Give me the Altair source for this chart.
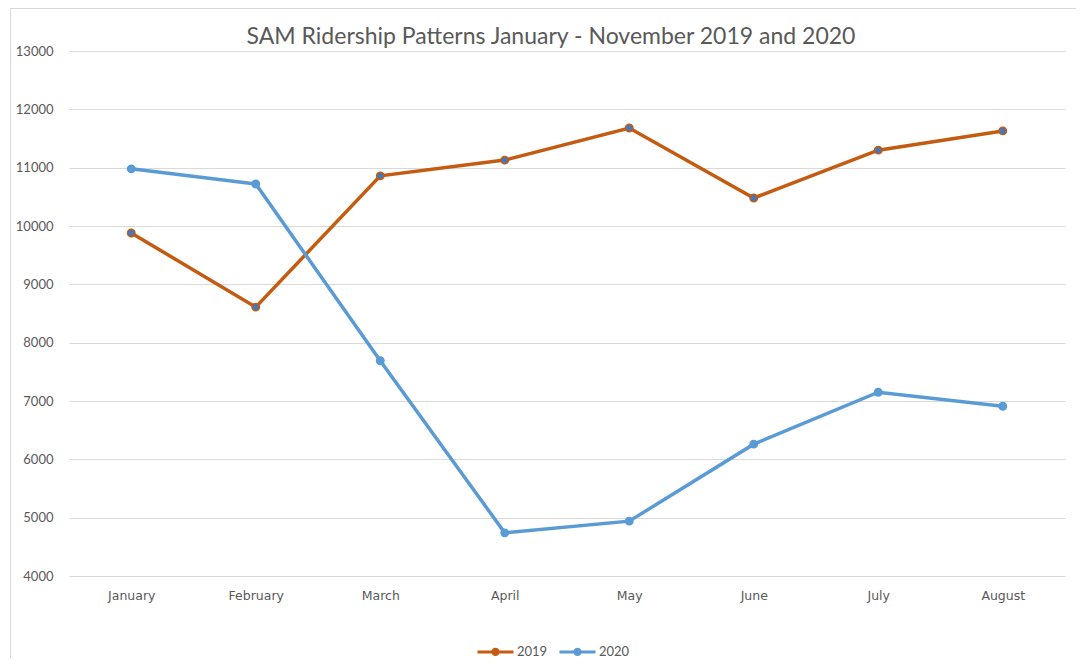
import altair as alt
import pandas as pd

months = ["January", "February", "March", "April", "May", "June", "July", "August"]
years = ["2019", "2020"]
riders_2019 = [9880, 8610, 10860, 11130, 11680, 10480, 11300, 11630]
riders_2020 = [10980, 10720, 7690, 4740, 4940, 6260, 7150, 6910]
y_ticks = [4000, 5000, 6000, 7000, 8000, 9000, 10000, 11000, 12000, 13000]
title_text = "SAM Ridership Patterns January - November 2019 and 2020"

rows = []
for m, a, b in zip(months, riders_2019, riders_2020):
    rows.append({"Month": m, "Year": "2019", "Riders": a})
    rows.append({"Month": m, "Year": "2020", "Riders": b})
df = pd.DataFrame(rows)

line_colors = ["#c55a11", "#5b9bd5"]
marker_fills = ["#4477bd", "#5b9bd5"]
grey = "#595959"
font = "Lato"

x = alt.X(
    "Month:N",
    sort=months,
    scale=alt.Scale(type="point", padding=0.5),
    axis=alt.Axis(title=None, labelAngle=0, ticks=False, domain=False, grid=False,
                  labelPadding=13, labelFontSize=12.5, labelColor=grey, labelFont="DejaVu Sans"),
)
y = alt.Y(
    "Riders:Q",
    scale=alt.Scale(domain=[4000, 13000], nice=False, zero=False),
    axis=alt.Axis(title=None, values=y_ticks, ticks=False, domain=False, format="d",
                  gridColor="#d9d9d9", gridWidth=1, labelPadding=16, labelFontSize=13,
                  labelColor=grey, labelFont=font),
)

sym = "M -1 0 L 1 0 M 0.15 0 A 0.15 0.15 0 1 1 -0.15 0 A 0.15 0.15 0 1 1 0.15 0 Z"
leg = alt.Legend(title=None, orient="none", legendX=407, legendY=581, direction="horizontal",
                 symbolType=sym, symbolSize=1296, symbolStrokeWidth=3, labelFontSize=13,
                 labelColor=grey, labelFont=font, columnPadding=5, labelOffset=2,
                 symbolOpacity=1)

stroke_scale = alt.Scale(domain=years, range=line_colors)
fill_scale = alt.Scale(domain=years, range=marker_fills)
lines = alt.Chart(df).mark_line(strokeWidth=3.5).encode(
    x=x, y=y,
    stroke=alt.Stroke("Year:N", scale=stroke_scale, legend=leg),
)
points = alt.Chart(df).mark_point(filled=True, shape="circle", size=55, strokeWidth=1.5, opacity=1).encode(
    x=x, y=y,
    stroke=alt.Stroke("Year:N", scale=stroke_scale, legend=leg),
    fill=alt.Fill("Year:N", scale=fill_scale, legend=leg),
)

one = pd.DataFrame({"k": [0]})
frame_left = alt.Chart(one).mark_rule(color="#d9d9d9", strokeWidth=1).encode(
    x=alt.value(-58.5), y=alt.value(-43), y2=alt.value(620))
frame_top = alt.Chart(one).mark_rule(color="#d9d9d9", strokeWidth=1).encode(
    x=alt.value(-59), x2=alt.value(1020), y=alt.value(-42.5))
title = alt.Chart(one).mark_text(font=font, fontSize=23, color=grey, align="center",
                                 baseline="alphabetic").encode(
    x=alt.value(482), y=alt.value(-7), text=alt.value(title_text))

chart = alt.layer(frame_left, frame_top, title, lines, points).properties(
    width=996, height=525,
    padding={"left": 61, "top": 43, "right": 11, "bottom": 82},
    autosize=alt.AutoSizeParams(type="none"),
).configure_view(stroke=None)

chart.save("out.html", embed_options={"renderer": "svg", "actions": False})
